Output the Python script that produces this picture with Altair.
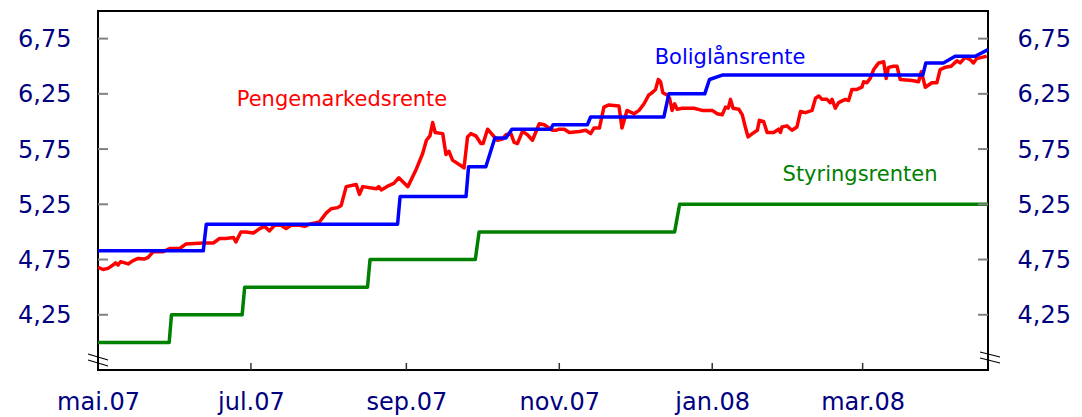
import altair as alt
import pandas as pd

# ---------------- data ----------------
BASE_DATE = "2007-05-01"          # day 0 of the day offsets below
END_DAY = 355                     # 2008-04-20, right edge of the plot

series_names = ["Pengemarkedsrente", "Boliglånsrente", "Styringsrenten"]
series_colors = ["#ff0000", "#0000ff", "#008000"]

# (days since 2007-05-01, percent)
pengemarked = [
    (0, 4.68), (2, 4.66), (4, 4.67), (6, 4.70), (7, 4.72), (8, 4.70), (9, 4.73),
    (10.7, 4.72), (12, 4.71), (14, 4.74), (16, 4.76), (18.6, 4.755), (20, 4.77),
    (22, 4.82), (26, 4.82), (28.6, 4.85), (32.6, 4.85), (35, 4.89), (42, 4.90),
    (46, 4.90), (48.5, 4.94), (51, 4.94), (54, 4.95), (55, 4.91), (57, 5.00),
    (59, 5.00), (62, 4.99), (64.5, 5.03), (66.4, 5.05), (68.4, 5.01), (70.4, 5.06),
    (73, 5.06), (75, 5.03), (77, 5.06), (80.4, 5.06), (82.4, 5.05), (84.4, 5.07),
    (88.3, 5.09), (91, 5.17), (93, 5.21), (95.6, 5.22), (97, 5.24), (99, 5.41),
    (103, 5.43), (104.3, 5.34), (105.6, 5.41), (111, 5.39), (112, 5.41), (113, 5.38),
    (116, 5.42), (118, 5.44), (120, 5.49), (123.6, 5.41), (126.8, 5.56), (129.5, 5.71),
    (131, 5.83), (132.4, 5.87), (133.5, 5.99), (134.5, 5.90), (137.5, 5.89),
    (138.8, 5.70), (140, 5.73), (141.4, 5.65), (145.4, 5.59), (146, 5.58),
    (147.4, 5.86), (148.7, 5.89), (150.7, 5.87), (152.7, 5.80), (153.6, 5.80),
    (155.4, 5.93), (157.3, 5.88), (159.3, 5.83), (161.3, 5.84), (162.7, 5.88),
    (164.7, 5.89), (166, 5.81), (167.3, 5.80), (169.3, 5.91), (171.3, 5.88),
    (173.3, 5.83), (176, 5.98), (178, 5.97), (180, 5.94), (181.3, 5.92), (182.6, 5.92),
    (184, 5.93), (186, 5.93), (188, 5.90), (192, 5.91), (194.6, 5.92), (196.5, 5.89),
    (197.8, 5.94), (200, 5.94), (201.8, 6.13), (203.8, 6.15), (207.8, 6.14),
    (209, 5.94), (211, 6.10), (213.8, 6.07), (215.8, 6.10), (217.8, 6.16),
    (219.7, 6.24), (221, 6.26), (222.4, 6.29), (223.5, 6.38), (224.4, 6.36),
    (225.3, 6.26), (227, 6.24), (228, 6.21), (229, 6.10), (230, 6.16), (231, 6.11),
    (233, 6.12), (237.7, 6.12), (241, 6.10), (245, 6.10), (247, 6.07), (249, 6.06),
    (250.3, 6.13), (251.4, 6.12), (252.3, 6.20), (253.3, 6.12), (255.6, 6.11),
    (257, 6.06), (258.3, 5.94), (259.3, 5.86), (261, 5.89), (263, 5.92), (263.8, 6.01),
    (265.5, 6.00), (266.9, 5.90), (269.5, 5.90), (271.5, 5.93), (272.2, 5.90),
    (272.8, 5.95), (274.8, 5.96), (276.8, 5.92), (278.8, 5.95), (280.2, 6.09),
    (282.2, 6.08), (284.8, 6.10), (286.2, 6.21), (287.5, 6.23), (288.8, 6.20),
    (290.8, 6.20), (292.1, 6.17), (292.8, 6.20), (294.1, 6.12), (295.4, 6.17),
    (298.1, 6.20), (299.4, 6.19), (300.7, 6.29), (302.7, 6.29), (304.7, 6.31),
    (305.4, 6.36), (306.7, 6.35), (308, 6.39), (309.4, 6.47), (311.4, 6.53),
    (313.4, 6.54), (314.4, 6.39), (315.3, 6.49), (317.3, 6.50), (318.7, 6.50),
    (320, 6.38), (324.7, 6.37), (327.3, 6.36), (328.4, 6.45), (330, 6.31),
    (332.6, 6.35), (334.6, 6.35), (335.9, 6.47), (337.9, 6.49), (340.3, 6.50),
    (342.6, 6.55), (343.9, 6.53), (345.9, 6.58), (347.9, 6.56), (349.2, 6.53),
    (350.5, 6.57), (352.5, 6.58), (354.5, 6.59),
]

boliglaan = [
    (0, 4.83), (42, 4.83), (43.2, 5.07), (119.5, 5.07), (120.5, 5.32), (146.8, 5.32),
    (147.8, 5.59), (154.7, 5.59), (158.3, 5.85), (162.7, 5.85), (165.1, 5.93),
    (180.6, 5.93), (181.5, 5.97), (195.2, 5.97), (196.5, 6.04), (225.7, 6.04),
    (227.7, 6.25), (242, 6.25), (243.9, 6.38), (249, 6.42), (329, 6.42),
    (330.2, 6.53), (337.2, 6.53), (341.9, 6.59), (349.9, 6.59), (355, 6.65),
]

styring = [
    (0, 4.00), (28.4, 4.00), (29.3, 4.25), (57.5, 4.25), (58.5, 4.50), (107.5, 4.50),
    (108.5, 4.75), (150.5, 4.75), (152, 5.00), (230, 5.00), (232, 5.25), (355, 5.25),
]

y_ticks = [4.25, 4.75, 5.25, 5.75, 6.25, 6.75]
y_domain = [3.75, 7.0]
x_tick_days = [0, 61, 123, 184, 245, 305]   # mai.07, jul.07, sep.07, nov.07, jan.08, mar.08
month_names = ["jan", "feb", "mar", "apr", "mai", "jun",
               "jul", "aug", "sep", "okt", "nov", "des"]

# ---------------- helpers ----------------
base = pd.Timestamp(BASE_DATE)


def day_to_ts(d):
    return base + pd.to_timedelta(d, unit="D")


def to_frame(points, name):
    return pd.DataFrame({
        "date": [day_to_ts(d).strftime("%Y-%m-%dT%H:%M:%S") for d, _ in points],
        "value": [v for _, v in points],
        "serie": name,
    })


def dt(d):
    t = day_to_ts(d)
    return alt.DateTime(year=t.year, month=t.month, date=t.day)


W, H = 890, 359
FONT = "DejaVu Sans"
NAVY = "#000080"

x_scale = alt.Scale(domain=[dt(0), dt(END_DAY)], nice=False)
y_scale = alt.Scale(domain=y_domain, nice=False, zero=False)

month_arr = "[" + ",".join("'%s'" % m for m in month_names) + "]"
x_axis = alt.Axis(
    values=[dt(d) for d in x_tick_days],
    labelExpr=month_arr + "[month(datum.value)] + '.' + timeFormat(datum.value, '%y')",
    labelFont=FONT, labelFontSize=24, labelColor=NAVY,
    ticks=False, tickSize=0, domain=False, grid=False,
    labelPadding=39, labelBaseline="alphabetic",
    labelFlush=False, labelOverlap=False, title=None,
)

y_label_expr = "replace(format(datum.value, '.2f'), '.', ',')"


def y_axis(orient, pad):
    return alt.Axis(
        orient=orient, values=y_ticks, labelExpr=y_label_expr,
        labelFont=FONT, labelFontSize=24, labelColor=NAVY,
        ticks=False, tickSize=0, domain=False, grid=False,
        labelPadding=pad, labelFlush=False, labelOverlap=False, title=None,
        labelOffset=1,
    )


def line_layer(points, name, color, xaxis, yaxis):
    return alt.Chart(to_frame(points, name)).mark_line(
        color=color, strokeWidth=3.5, strokeJoin="round", strokeCap="butt"
    ).encode(
        x=alt.X("date:T", scale=x_scale, axis=xaxis),
        y=alt.Y("value:Q", scale=y_scale, axis=yaxis),
    )


green = line_layer(styring, series_names[2], series_colors[2], x_axis, y_axis("left", 27))
red = line_layer(pengemarked, series_names[0], series_colors[0], None, y_axis("right", 29))
blue = line_layer(boliglaan, series_names[1], series_colors[1], None, None)

# inward tick marks
ytick_df = pd.DataFrame({"v": y_ticks})
ytick_left = alt.Chart(ytick_df).mark_rule(color="#808080", strokeWidth=2).encode(
    y=alt.Y("v:Q", scale=y_scale, axis=None), x=alt.value(0), x2=alt.value(10))
ytick_right = alt.Chart(ytick_df).mark_rule(color="#808080", strokeWidth=2).encode(
    y=alt.Y("v:Q", scale=y_scale, axis=None), x=alt.value(W - 10), x2=alt.value(W))

xtick_df = pd.DataFrame({"d": [day_to_ts(d).strftime("%Y-%m-%dT%H:%M:%S") for d in x_tick_days[1:]]})
xtick = alt.Chart(xtick_df).mark_rule(color="#333333", strokeWidth=1.5).encode(
    x=alt.X("d:T", scale=x_scale, axis=None), y=alt.value(H - 7), y2=alt.value(H))

# series labels
def label(name, color, px, py):
    return alt.Chart(pd.DataFrame({"label": [name]})).mark_text(
        font=FONT, fontSize=21, color=color, align="center", baseline="alphabetic"
    ).encode(text="label:N", x=alt.value(px), y=alt.value(py))


lab_red = label(series_names[0], series_colors[0], 244, 95)
lab_blue = label(series_names[1], series_colors[1], 632, 53)
lab_green = label(series_names[2], series_colors[2], 762, 170)

# axis break marks
one = pd.DataFrame({"k": [0]})


def brk(x1, y1, x2, y2):
    return alt.Chart(one).mark_rule(color="black", strokeWidth=1.2).encode(
        x=alt.value(x1), y=alt.value(y1), x2=alt.value(x2), y2=alt.value(y2))


breaks = [brk(-10, 343, 10, 349), brk(-10, 349, 10, 355),
          brk(W - 8, 341, W + 12, 346), brk(W - 8, 347, W + 12, 352)]

chart = alt.layer(
    green, red, blue, ytick_left, ytick_right, xtick,
    lab_red, lab_blue, lab_green, *breaks
).resolve_axis(x="independent", y="independent").properties(
    width=W, height=H,
    autosize=alt.AutoSizeParams(type="none"),
    padding={"left": 90, "top": 3, "right": 84, "bottom": 46},
    background="white",
).configure_view(stroke="black", strokeWidth=2)

chart.save("out.html", embed_options={"renderer": "svg", "actions": False})
